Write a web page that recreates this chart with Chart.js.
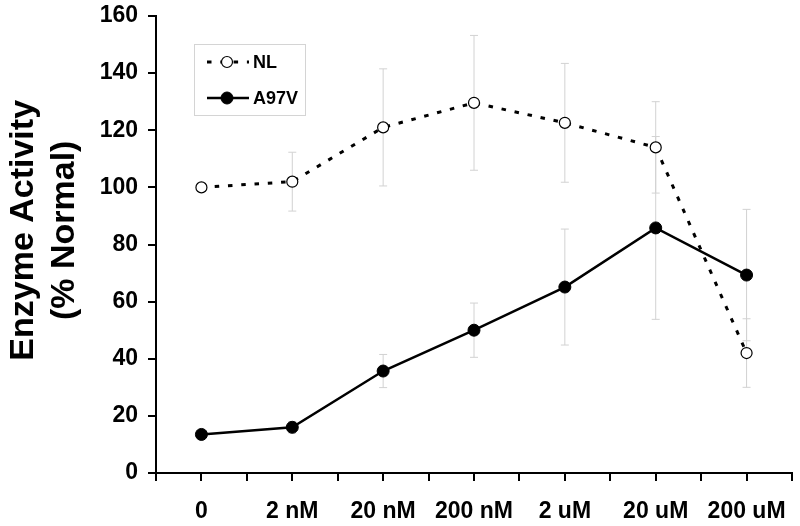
<!DOCTYPE html>
<html>
<head>
<meta charset="utf-8">
<script src="https://cdn.jsdelivr.net/npm/chart.js@4"></script>
<style>
  html, body { margin: 0; padding: 0; background: #fff; }
  canvas { display: block; }
</style>
</head>
<body>
<canvas id="chartEl" width="800" height="526"></canvas>
<script>
/************ DATA ************/
const categories = ["0", "2 nM", "20 nM", "200 nM", "2 uM", "20 uM", "200 uM"];
const nlMean = [100, 102, 121, 129.6, 122.6, 114, 42];
const nlErr = [0, 10.3, 20.5, 23.6, 20.8, 16, 12];
const a97vMean = [13.5, 16, 35.7, 50, 65.1, 85.8, 69.3];
const a97vErr = [0, 2, 5.8, 9.5, 20.3, 32, 23];
const yTicks = [0, 20, 40, 60, 80, 100, 120, 140, 160];

const FONT = "Arial, 'Liberation Sans', sans-serif";

/************ ERROR BARS ************/
const errorBars = {
    id: "errorBars",
    beforeDatasetsDraw(chart) {
        const { ctx, scales: { x, y } } = chart;
        ctx.save();
        ctx.strokeStyle = "#d2d2d2";
        ctx.lineWidth = 1;
        chart.data.datasets.forEach(ds => {
            ds.data.forEach((p, i) => {
                const e = ds.errors[i];
                if (!e) return;
                const px = x.getPixelForValue(p.x);
                const top = y.getPixelForValue(p.y + e);
                const bot = y.getPixelForValue(p.y - e);
                ctx.beginPath();
                ctx.moveTo(px, top); ctx.lineTo(px, bot);
                ctx.moveTo(px - 4, top); ctx.lineTo(px + 4, top);
                ctx.moveTo(px - 4, bot); ctx.lineTo(px + 4, bot);
                ctx.stroke();
            });
        });
        ctx.restore();
    }
};

/************ LEGEND BOX ************/
const boxLegend = {
    id: "boxLegend",
    afterDraw(chart) {
        const { ctx, chartArea } = chart;
        const bx = chartArea.left + 38, by = chartArea.top + 28;
        ctx.save();
        ctx.strokeStyle = "#d4d4d4";
        ctx.lineWidth = 1;
        ctx.strokeRect(bx + 0.5, by + 0.5, 111, 71);

        chart.data.datasets.forEach((ds, i) => {
            const ly = by + 18 + i * 36;
            ctx.strokeStyle = ds.borderColor;
            ctx.lineWidth = ds.borderWidth;
            ctx.setLineDash(ds.borderDash || []);
            ctx.beginPath();
            ctx.moveTo(bx + 13, ly);
            ctx.lineTo(bx + 55, ly);
            ctx.stroke();
            ctx.setLineDash([]);
            ctx.beginPath();
            ctx.arc(bx + 33, ly, ds.pointRadius, 0, Math.PI * 2);
            ctx.fillStyle = ds.pointBackgroundColor;
            ctx.fill();
            ctx.lineWidth = ds.pointBorderWidth;
            ctx.strokeStyle = ds.pointBorderColor;
            ctx.stroke();
            ctx.fillStyle = "#000";
            ctx.font = "bold 18px " + FONT;
            ctx.textBaseline = "middle";
            ctx.fillText(ds.label, bx + 59, ly + 1);
        });
        ctx.restore();
    }
};

/************ CHART ************/
new Chart(chartEl, {
    type: "line",
    data: {
        datasets: [
            {
                label: "NL",
                data: nlMean.map((v, i) => ({ x: i, y: v })),
                errors: nlErr,
                borderColor: "#000",
                borderWidth: 3,
                borderDash: [4.5, 8.8],
                pointRadius: 5.5,
                pointBackgroundColor: "#fff",
                pointBorderColor: "#000",
                pointBorderWidth: 1.2
            },
            {
                label: "A97V",
                data: a97vMean.map((v, i) => ({ x: i, y: v })),
                errors: a97vErr,
                borderColor: "#000",
                borderWidth: 2.5,
                pointRadius: 6,
                pointBackgroundColor: "#000",
                pointBorderColor: "#000",
                pointBorderWidth: 1
            }
        ]
    },
    options: {
        responsive: false,
        animation: false,
        devicePixelRatio: 1,
        layout: { padding: { top: 16, right: 8, left: 0, bottom: 0 } },
        plugins: { legend: { display: false }, tooltip: { enabled: false } },
        scales: {
            x: {
                type: "linear",
                min: -0.5,
                max: 6.5,
                afterFit: s => { s.height = 53; s.paddingLeft = 0; s.paddingRight = 0; },
                afterBuildTicks: s => {
                    s.ticks = [];
                    for (let k = 0; k <= 14; k++) s.ticks.push({ value: -0.5 + k * 0.5 });
                },
                grid: { drawOnChartArea: false, color: "#000", lineWidth: 2, tickLength: 8 },
                border: { color: "#000", width: 2 },
                ticks: {
                    autoSkip: false,
                    maxRotation: 0,
                    padding: 17,
                    color: "#000",
                    font: { family: FONT, size: 23, weight: "bold" },
                    callback: v => Number.isInteger(v) ? categories[v] : ""
                }
            },
            y: {
                min: 0,
                max: 160,
                afterFit: s => { s.width = 156; s.paddingTop = 0; s.paddingBottom = 0; },
                afterBuildTicks: s => { s.ticks = yTicks.map(v => ({ value: v })); },
                grid: { drawOnChartArea: false, color: "#000", lineWidth: 2, tickLength: 8 },
                border: { color: "#000", width: 2 },
                ticks: {
                    padding: 10,
                    color: "#000",
                    font: { family: FONT, size: 23, weight: "bold" }
                },
                title: {
                    display: true,
                    text: ["   Enzyme Activity", "   (% Normal)"],
                    color: "#000",
                    font: { family: FONT, size: 34, weight: "bold", lineHeight: 1.18 },
                    padding: { top: 4, bottom: 0 }
                }
            }
        }
    },
    plugins: [errorBars, boxLegend]
});
</script>
</body>
</html>
